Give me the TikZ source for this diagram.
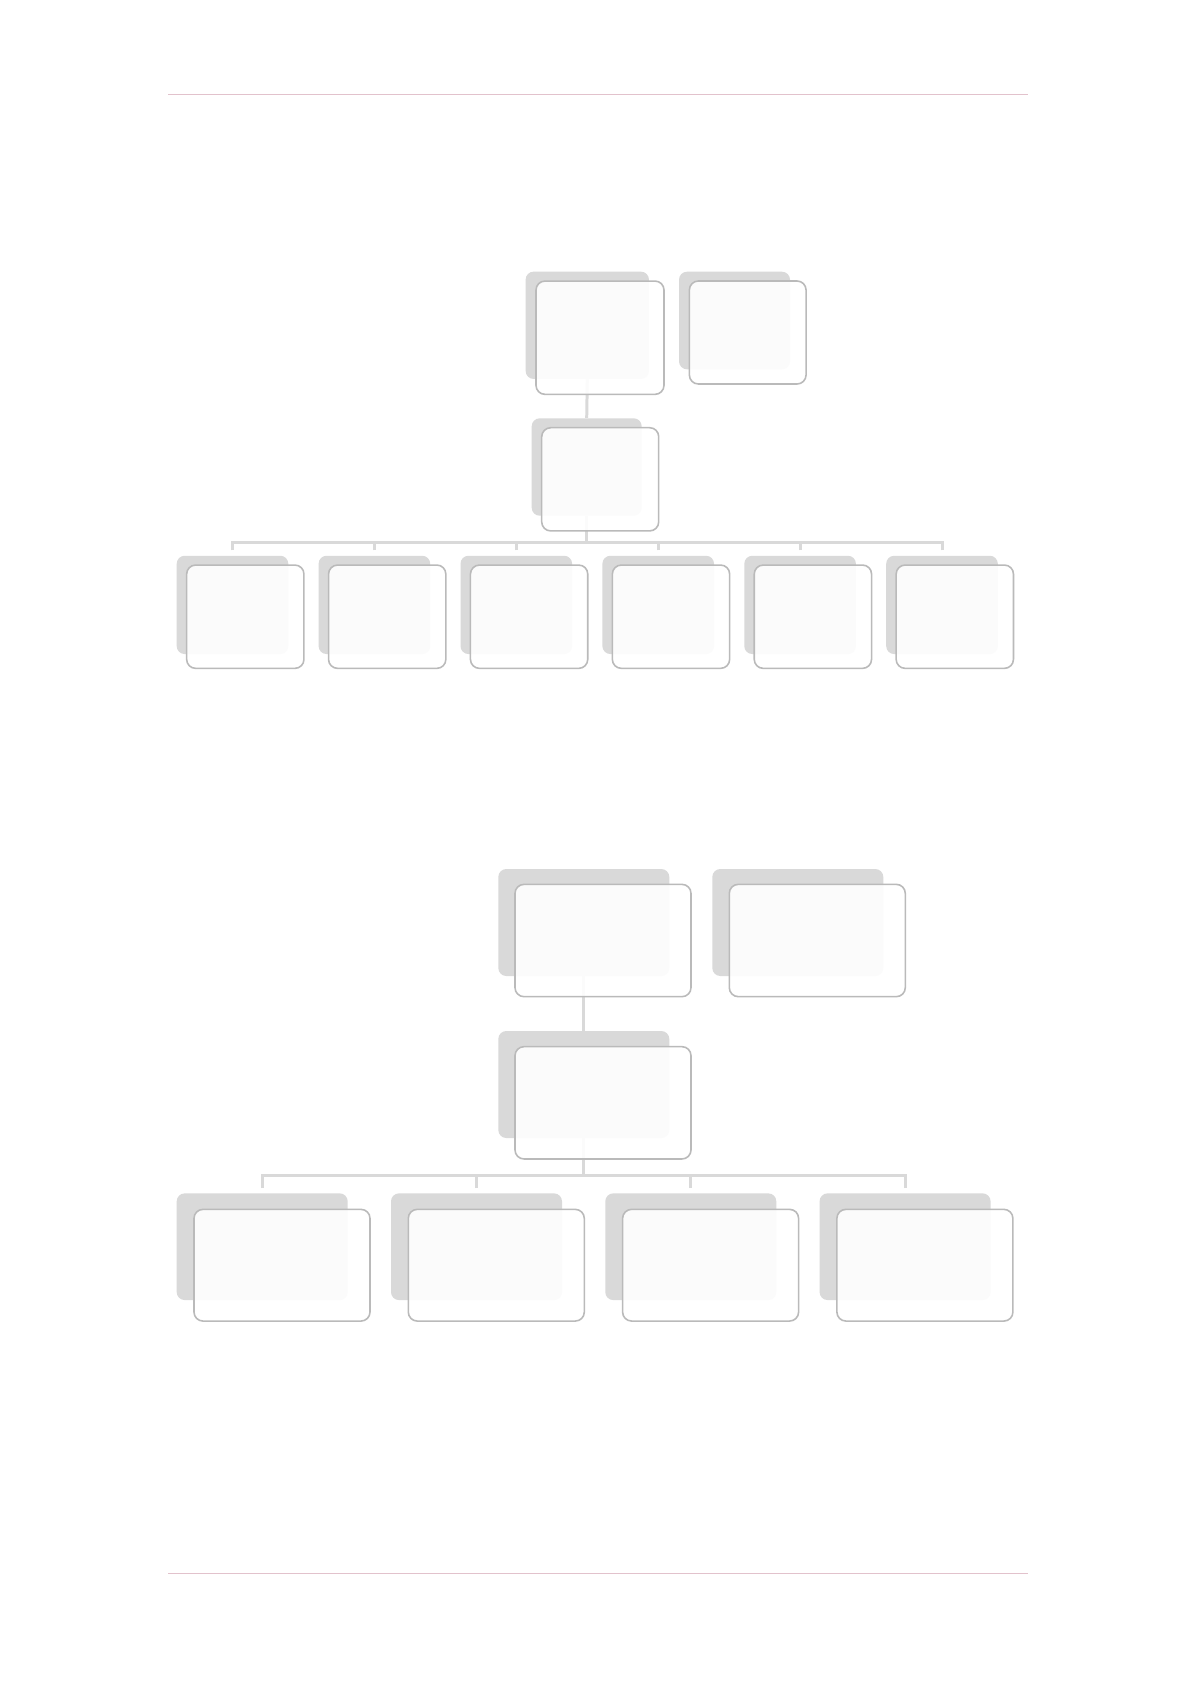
\documentclass[tikz,border=0pt]{standalone}
\usepackage{tikz}
\definecolor{Shade}{HTML}{D9D9D9}
\definecolor{Frame}{HTML}{BABABA}
\definecolor{Rule}{HTML}{E2C2CC}

\begin{document}
\begin{tikzpicture}[x=0.2mm,y=-0.2mm,
  backcard/.style={fill=Shade,rounded corners=1.6mm,inner sep=0pt},
  card/.style={draw=Frame,line width=0.9pt,fill=white,fill opacity=0.9,rounded corners=1.8mm,inner sep=0pt},
  linkline/.style={draw=Shade,line width=1.7pt}]
% Page
\path[use as bounding box,fill=white] (0,0) rectangle (1196,1692);
% Header and footer rules
\draw[Rule,line width=0.7pt] (168,94.3) -- (1028,94.3);
\draw[Rule,line width=0.7pt] (168,1573.3) -- (1028,1573.3);

% First chart: shadows
\node[backcard,minimum width=24.66mm,minimum height=21.46mm] (s1top) at (587.3,325.3) {};
\node[backcard,minimum width=22.2mm,minimum height=19.52mm] (s1asst) at (734.5,320.5) {};
\node[backcard,minimum width=22mm,minimum height=19.48mm] (s1mgr) at (586.7,467) {};
\foreach \k in {0,...,5}
  \node[backcard,minimum width=22.32mm,minimum height=19.66mm] (s1b\k) at ({232.5+\k*141.9},604.9) {};
% First chart: lines
\coordinate (bar1) at (586.7,542.7);
\draw[linkline] (s1top.south) -- (s1mgr.north);
\draw[linkline] (s1mgr.south) -- (bar1);
\foreach \k in {0,...,5}
  \draw[linkline] (s1b\k.north) ++(0,-5) |- (bar1);
% First chart: cards
\node[card,minimum width=25.6mm,minimum height=22.66mm] (b1top) at (600,337.7) {};
\node[card,minimum width=23.34mm,minimum height=20.6mm] (b1asst) at (747.7,332.5) {};
\node[card,minimum width=23.4mm,minimum height=20.64mm] (b1mgr) at (600.2,479.3) {};
\foreach \k in {0,...,5}
  \node[card,minimum width=23.46mm,minimum height=20.66mm] (b1\k) at ({245.3+\k*141.9},616.7) {};

% Second chart: shadows
\node[backcard,minimum width=34.2mm,minimum height=21.4mm] (s2top) at (583.8,922.5) {};
\node[backcard,minimum width=34.2mm,minimum height=21.4mm] (s2asst) at (797.8,922.5) {};
\node[backcard,minimum width=34.2mm,minimum height=21.4mm] (s2mgr) at (583.8,1084.5) {};
\foreach \k in {0,...,3}
  \node[backcard,minimum width=34.2mm,minimum height=21.34mm] (s2b\k) at ({262.2+\k*214.3},1246.7) {};
% Second chart: lines
\coordinate (bar2) at (583.8,1175);
\draw[linkline] (s2top.south) -- (s2mgr.north);
\draw[linkline] (s2mgr.south) -- (bar2);
\foreach \k in {0,...,3}
  \draw[linkline] (s2b\k.north) ++(0,-5) |- (bar2);
% Second chart: cards
\node[card,minimum width=35.2mm,minimum height=22.46mm] (b2top) at (603,940.5) {};
\node[card,minimum width=35.2mm,minimum height=22.46mm] (b2asst) at (817.3,940.5) {};
\node[card,minimum width=35.2mm,minimum height=22.46mm] (b2mgr) at (603,1102.8) {};
\foreach \k in {0,...,3}
  \node[card,minimum width=35.2mm,minimum height=22.34mm] (b2\k) at ({282+\k*214.3},1265.2) {};
\end{tikzpicture}
\end{document}
